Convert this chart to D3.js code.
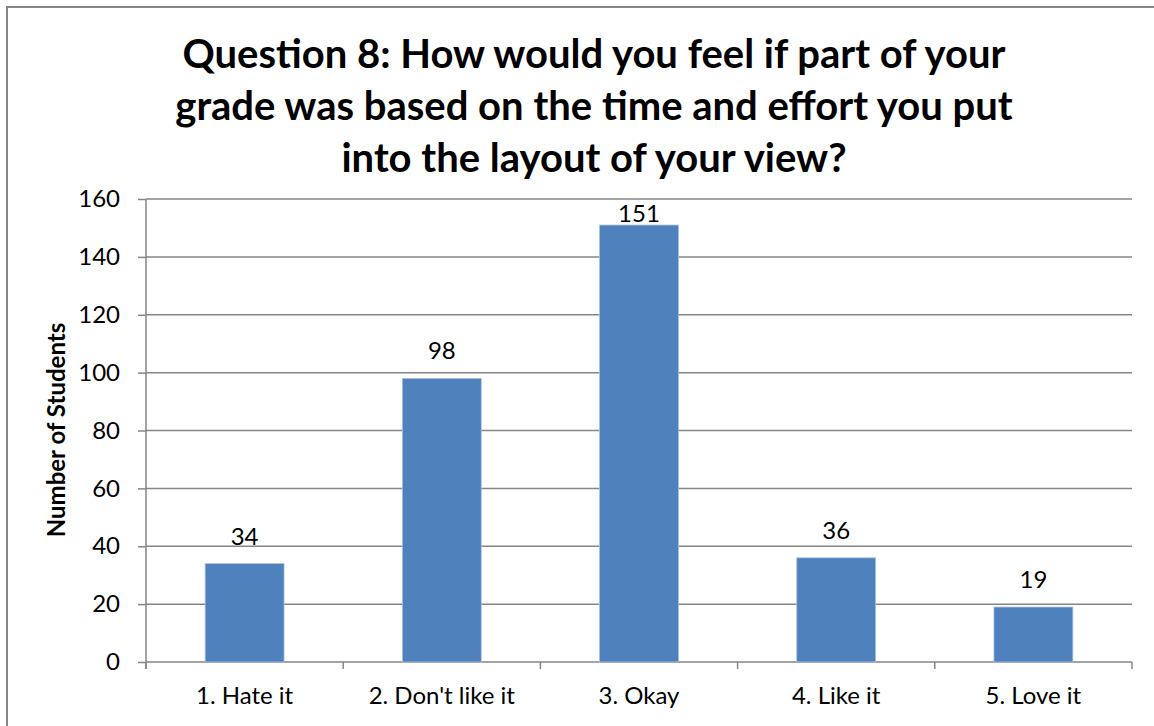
<!DOCTYPE html>
<html>
<head>
<meta charset="utf-8">
<script src="https://cdnjs.cloudflare.com/ajax/libs/d3/7.8.5/d3.min.js"></script>
<style>
  body { margin: 0; background: #fff; }
  text { font-family: Lato, "Open Sans", sans-serif; fill: #000; }
</style>
</head>
<body>
<div class="chart"></div>
<script>
// chart data
var categories = ["1. Hate it", "2. Don't like it", "3. Okay", "4. Like it", "5. Love it"];
var counts = [34, 98, 151, 36, 19];
var yTicks = [0, 20, 40, 60, 80, 100, 120, 140, 160];
var titleLines = [
  "Question 8: How would you feel if part of your",
  "grade was based on the time and effort you put",
  "into the layout of your view?"
];
var yLabel = "Number of Students";

var svgWidth = 1154;
var svgHeight = 726;

var margin = { top: 199, bottom: 64, left: 146, right: 22 };
var width = svgWidth - margin.left - margin.right;
var height = svgHeight - margin.top - margin.bottom;

var svg = d3.select(".chart")
  .append("svg")
  .attr("width", svgWidth)
  .attr("height", svgHeight);

// outer chart border (right and bottom edges fall outside the picture)
svg.append("rect")
  .attr("x", 7)
  .attr("y", 7)
  .attr("width", 1200)
  .attr("height", 800)
  .attr("fill", "#fff")
  .attr("stroke", "#868686")
  .attr("stroke-width", 2);

// title
svg.append("g")
  .selectAll("text")
  .data(titleLines)
  .enter()
  .append("text")
  .attr("x", 594)
  .attr("y", (d, i) => 68 + i * 52)
  .attr("text-anchor", "middle")
  .attr("font-size", 40)
  .attr("font-weight", "bold")
  .text(d => d);

var chartGroup = svg.append("g")
  .attr("transform", `translate(${margin.left}, ${margin.top})`);

// scales
var xBandScale = d3.scaleBand()
  .domain(categories)
  .range([0, width])
  .paddingInner(0.6)
  .paddingOuter(0.3);

var yLinearScale = d3.scaleLinear()
  .domain([0, 160])
  .range([height, 0]);

// gridlines
chartGroup.append("g")
  .selectAll("line")
  .data(yTicks.slice(1))
  .enter()
  .append("line")
  .attr("x1", 0)
  .attr("x2", width)
  .attr("y1", d => yLinearScale(d))
  .attr("y2", d => yLinearScale(d))
  .attr("stroke", "#868686")
  .attr("stroke-width", 1.5);

// y axis
var yAxis = d3.axisLeft(yLinearScale)
  .tickValues(yTicks)
  .tickSize(8)
  .tickPadding(18);

var yAxisGroup = chartGroup.append("g").call(yAxis);
yAxisGroup.select(".domain").remove();
yAxisGroup.selectAll("line").attr("stroke", "#868686").attr("stroke-width", 1.5);
yAxisGroup.selectAll("text")
  .attr("font-size", 24)
  .attr("font-family", "Lato, sans-serif")
  .attr("fill", "#000");

chartGroup.append("line")
  .attr("x1", 0)
  .attr("x2", 0)
  .attr("y1", 0)
  .attr("y2", height + 7)
  .attr("stroke", "#868686")
  .attr("stroke-width", 1.5);

// x axis line and ticks at category edges
chartGroup.append("line")
  .attr("x1", 0)
  .attr("x2", width)
  .attr("y1", height)
  .attr("y2", height)
  .attr("stroke", "#868686")
  .attr("stroke-width", 1.5);

var step = xBandScale.step();
chartGroup.append("g")
  .selectAll("line")
  .data(d3.range(categories.length + 1))
  .enter()
  .append("line")
  .attr("x1", i => i * step)
  .attr("x2", i => i * step)
  .attr("y1", height)
  .attr("y2", height + 7)
  .attr("stroke", "#868686")
  .attr("stroke-width", 1.5);

// category labels
chartGroup.append("g")
  .selectAll("text")
  .data(categories)
  .enter()
  .append("text")
  .attr("x", d => xBandScale(d) + xBandScale.bandwidth() / 2)
  .attr("y", height + 42)
  .attr("text-anchor", "middle")
  .attr("font-size", 24)
  .text(d => d);

// bars
chartGroup.selectAll("rect.bar")
  .data(counts)
  .enter()
  .append("rect")
  .attr("class", "bar")
  .attr("x", (d, i) => xBandScale(categories[i]))
  .attr("y", d => yLinearScale(d))
  .attr("width", xBandScale.bandwidth())
  .attr("height", d => height - yLinearScale(d))
  .attr("fill", "#4f81bd")
  .attr("stroke", "#a9c0e0")
  .attr("stroke-width", 0.8);

// value labels, kept inside the plot area
chartGroup.selectAll("text.value")
  .data(counts)
  .enter()
  .append("text")
  .attr("class", "value")
  .attr("x", (d, i) => xBandScale(categories[i]) + xBandScale.bandwidth() / 2)
  .attr("y", d => Math.max(yLinearScale(d) - 19, 23))
  .attr("text-anchor", "middle")
  .attr("font-size", 24)
  .text(d => d);

// y axis title
svg.append("text")
  .attr("transform", "translate(65, 430) rotate(-90)")
  .attr("text-anchor", "middle")
  .attr("font-size", 24)
  .attr("font-weight", "bold")
  .text(yLabel);
</script>
</body>
</html>
